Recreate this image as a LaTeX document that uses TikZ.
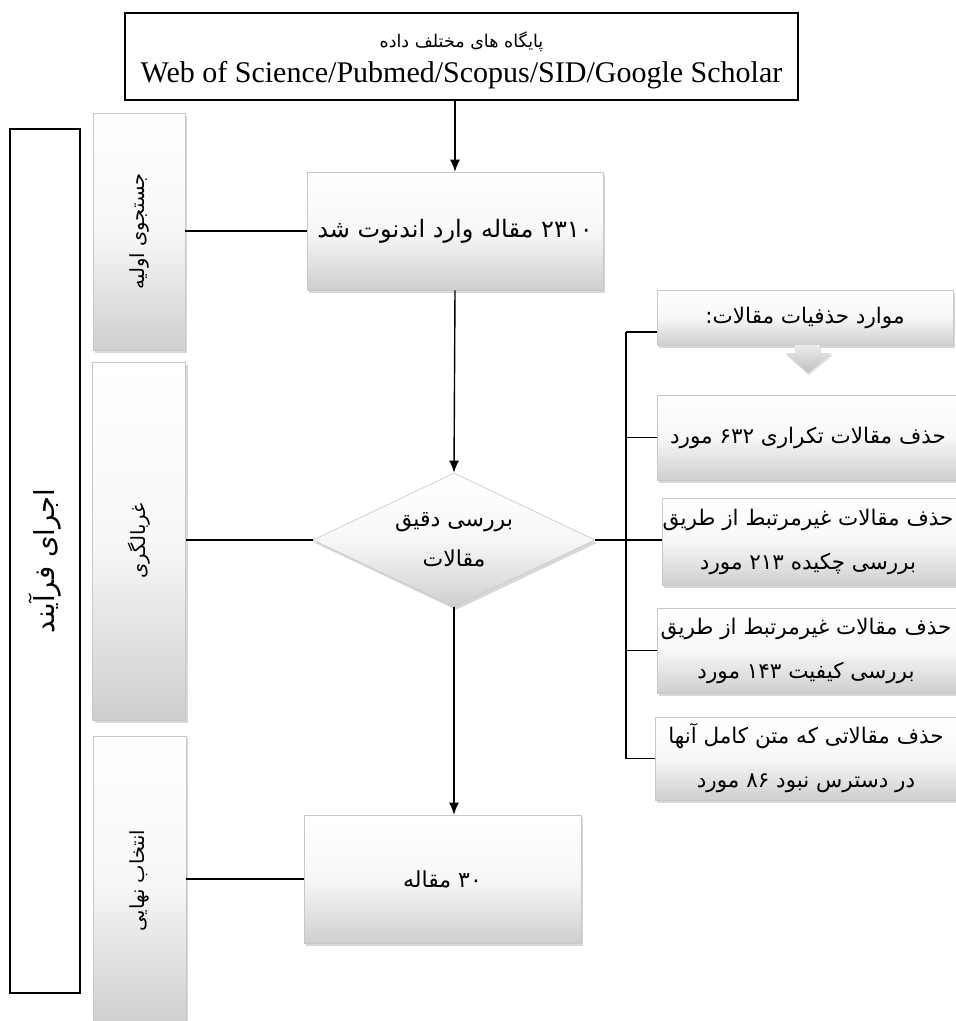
\documentclass[tikz,border=0pt]{standalone}
\usepackage{fontspec}
\setmainfont{Liberation Serif}
\newfontfamily\fa[Script=Arabic]{DejaVu Sans}
\TeXXeTstate=1
\usetikzlibrary{shapes.geometric,shadows,arrows.meta}
\newcommand\rl[1]{\beginR #1\endR}
\begin{document}
\begin{tikzpicture}[x=1pt,y=-1pt,
  grad/.style={draw=black!22, line width=0.6pt, top color=white, bottom color=black!19, middle color=black!3,
    drop shadow={opacity=0.3, shadow xshift=2pt, shadow yshift=-3pt}, inner sep=0pt},
  plainbox/.style={draw=black, line width=1.6pt, fill=white, inner sep=0pt},
  conn/.style={draw=black, line width=1.4pt},
  arr/.style={conn, -{Latex[length=12pt,width=10pt]}},
  fatext/.style={font=\fa\fontsize{24}{40}\selectfont, align=center},
  rtext/.style={font=\fa\fontsize{21.5}{44}\selectfont, align=center},
  vtext/.style={font=\fa\fontsize{19.5}{22}\selectfont, rotate=90}
]
\useasboundingbox (0,0) rectangle (956,1021);
\clip (0,0) rectangle (956,1021);
\fill[white] (0,0) rectangle (956,1021);

% outer process box
\node[plainbox, minimum width=70pt, minimum height=864pt] (outer) at (45,561) {};
\node[font=\fa\fontsize{27.5}{30}\selectfont, rotate=90] (outert) at (outer.center) {\rl{اجرای فرآیند}};

% left column stages
\node[grad, minimum width=92pt, minimum height=237pt] (L1) at (139,231.5) {};
\node[vtext] (L1t) at (L1.center) {\rl{جستجوی اولیه}};
\node[grad, minimum width=93pt, minimum height=358pt] (L2) at (139,541) {};
\node[vtext] (L2t) at (L2.center) {\rl{غربالگری}};
\node[grad, minimum width=93pt, minimum height=289pt] (L3) at (139.5,880.5) {};
\node[vtext] (L3t) at (L3.center) {\rl{انتخاب نهایی}};

% source box
\node[plainbox, minimum width=673pt, minimum height=87pt, align=center] (src) at (461.5,56.5)
  {{\fa\fontsize{17.5}{20}\selectfont\rule{0pt}{24pt}\rl{پایگاه های مختلف داده}}\\[9pt]
   {\fontsize{30}{32}\selectfont Web of Science/Pubmed/Scopus/SID/Google Scholar}};

% main flow
\node[grad, fatext, minimum width=296pt, minimum height=118pt] (b2310) at (455,231) {\rl{۲۳۱۰ مقاله وارد اندنوت شد}};
\node[grad, fatext, font=\fa\fontsize{22}{40}\selectfont, shape=diamond, aspect=2.1, minimum width=282pt, minimum height=134pt] (dia) at (454,540)
  {\rl{بررسی دقیق}\\\rl{مقالات}};
\node[grad, fatext, font=\fa\fontsize{22}{40}\selectfont, minimum width=277pt, minimum height=128pt] (b30) at (442.5,879) {\rl{۳۰ مقاله}};

% right side
\node[grad, rtext, minimum width=296pt, minimum height=55pt] (hdr) at (805,317.5) {\rl{موارد حذفیات مقالات:}};
\node[grad, minimum width=320pt, minimum height=85pt] (r1) at (817,437.5) {};
\node[rtext] (r1t) at (808,437.5) {\rl{حذف مقالات تکراری ۶۳۲ مورد}};
\node[grad, minimum width=320pt, minimum height=87pt] (r2) at (822,541.5) {};
\node[rtext] (r2t) at (808,541.5) {\rl{حذف مقالات غیرمرتبط از طریق}\\\rl{بررسی چکیده ۲۱۳ مورد}};
\node[grad, minimum width=320pt, minimum height=85pt] (r3) at (817,650.5) {};
\node[rtext] (r3t) at (806,650.5) {\rl{حذف مقالات غیرمرتبط از طریق}\\\rl{بررسی کیفیت ۱۴۳ مورد}};
\node[grad, minimum width=320pt, minimum height=83pt] (r4) at (815,758.5) {};
\node[rtext] (r4t) at (806,758.5) {\rl{حذف مقالاتی که متن کامل آنها}\\\rl{در دسترس نبود ۸۶ مورد}};

% block arrow under header
\path[top color=black!8, bottom color=black!25, drop shadow={opacity=0.25, shadow xshift=1pt, shadow yshift=-2pt}]
  (795,345) -- (820,345) -- (820,353) -- (832,353) -- (808,373) -- (785,353) -- (795,353) -- cycle;

% connectors
\draw[arr] (b2310.north |- src.south) -- (b2310.north);
\draw[arr] (b2310.south) -- (dia.north);
\draw[arr] (dia.south) -- (dia.south |- b30.north);
\draw[conn] (b2310.west) -- (b2310.west -| L1.east);
\draw[conn] (dia.west) -- (dia.west -| L2.east);
\draw[conn] (b30.west) -- (b30.west -| L3.east);

\coordinate (bt) at (626,332);
\coordinate (bb) at (r4.west -| bt);
\draw[conn] (bt) -- (bb);
\draw[conn] (bt) -- (bt -| hdr.west);
\draw[conn] (r1.west -| bt) -- (r1.west);
\draw[conn] (dia.east) -- (dia.east -| r2.west);
\draw[conn] (r3.west -| bt) -- (r3.west);
\draw[conn] (bb) -- (r4.west);
\end{tikzpicture}
\end{document}
